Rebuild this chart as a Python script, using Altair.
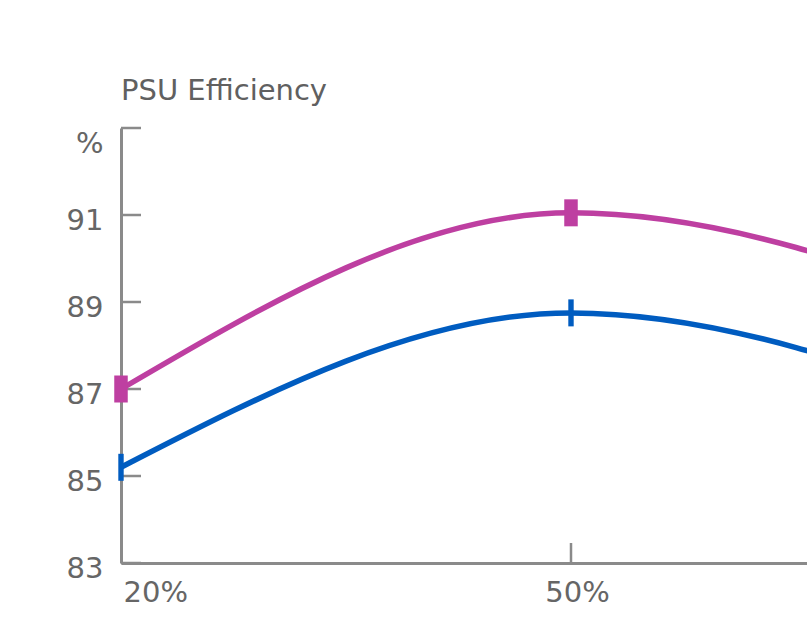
import altair as alt
import pandas as pd

# ---- data ----
loads = ["20%", "50%", "100%"]
shown_load_labels = ["20%", "50%"]
series_names = ["Upper curve", "Lower curve"]
upper_eff = [87.0, 91.05, 88.5]
lower_eff = [85.2, 88.75, 86.2]
y_tick_values = [83, 85, 87, 89, 91, 93]
x_tick_loads = ["50%", "100%"]
series_colors = ["#be3fa1", "#005cc0"]
marker_paths = ["M-0.5,-1H0.5V1H-0.5Z", "M-0.2,-1H0.2V1H-0.2Z"]

df = pd.DataFrame({
    "load": loads * 2,
    "series": [series_names[0]] * len(loads) + [series_names[1]] * len(loads),
    "eff": upper_eff + lower_eff,
})
ytick_df = pd.DataFrame({"tick": y_tick_values})
xtick_df = pd.DataFrame({"load": x_tick_loads})

PLOT_W = 686
PLOT_H = 435
AXIS_GRAY = "#8a8a8a"

xscale = alt.Scale(type="point", domain=loads, range=[0, 900], padding=0)
yscale = alt.Scale(domain=[83, 93], nice=False, zero=False)

x_axis = alt.Axis(
    title=None, ticks=False, tickSize=0, grid=False, values=shown_load_labels,
    labelPadding=29, labelAngle=0, labelFlush=False,
    labelAlign={"condition": {"test": "datum.value == '20%'", "value": "left"}, "value": "center"},
    labelOffset={"condition": {"test": "datum.value == '20%'", "value": 2}, "value": 6},
)
y_axis = alt.Axis(
    title=None, ticks=False, tickSize=0, grid=False, values=y_tick_values,
    labelExpr="datum.value == 93 ? '%' : datum.label",
    labelPadding=18,
    labelOffset={"condition": {"test": "datum.value == 93", "value": 15}, "value": 5},
)

color = alt.Color("series:N", scale=alt.Scale(domain=series_names, range=series_colors), legend=None)

lines = alt.Chart(df).mark_line(strokeWidth=5.5, interpolate="monotone").encode(
    x=alt.X("load:O", scale=xscale, axis=x_axis, sort=loads),
    y=alt.Y("eff:Q", scale=yscale, axis=y_axis),
    color=color,
)

points = alt.Chart(df).mark_point(filled=True, size=729, opacity=1).encode(
    x=alt.X("load:O", scale=xscale, sort=loads),
    y=alt.Y("eff:Q", scale=yscale),
    color=color,
    shape=alt.Shape("series:N", scale=alt.Scale(domain=series_names, range=marker_paths), legend=None),
)

yticks = alt.Chart(ytick_df).mark_rule(color=AXIS_GRAY, strokeWidth=2.5).encode(
    y=alt.Y("tick:Q", scale=yscale),
    x=alt.value(0),
    x2=alt.value(20),
)

xticks = alt.Chart(xtick_df).mark_rule(color=AXIS_GRAY, strokeWidth=2.5).encode(
    x=alt.X("load:O", scale=xscale, sort=loads),
    y=alt.value(PLOT_H),
    y2=alt.value(PLOT_H - 20),
)

chart = alt.layer(yticks, xticks, lines, points).properties(
    width=PLOT_W,
    height=PLOT_H,
    background="white",
    autosize=alt.AutoSizeParams(type="none"),
    padding={"left": 121, "top": 128, "right": 0, "bottom": 62},
    title=alt.TitleParams(
        "PSU Efficiency", anchor="start", frame="group", fontSize=29,
        font="DejaVu Sans", fontWeight="normal", color="#606060",
        baseline="alphabetic", offset=-2,
    ),
).configure_view(strokeWidth=0).configure_axis(
    domainColor=AXIS_GRAY, domainWidth=3, grid=False,
    labelColor="#666666", labelFont="DejaVu Sans", labelFontSize=29,
)

chart.save("out.html", embed_options={"renderer": "svg", "actions": False})
